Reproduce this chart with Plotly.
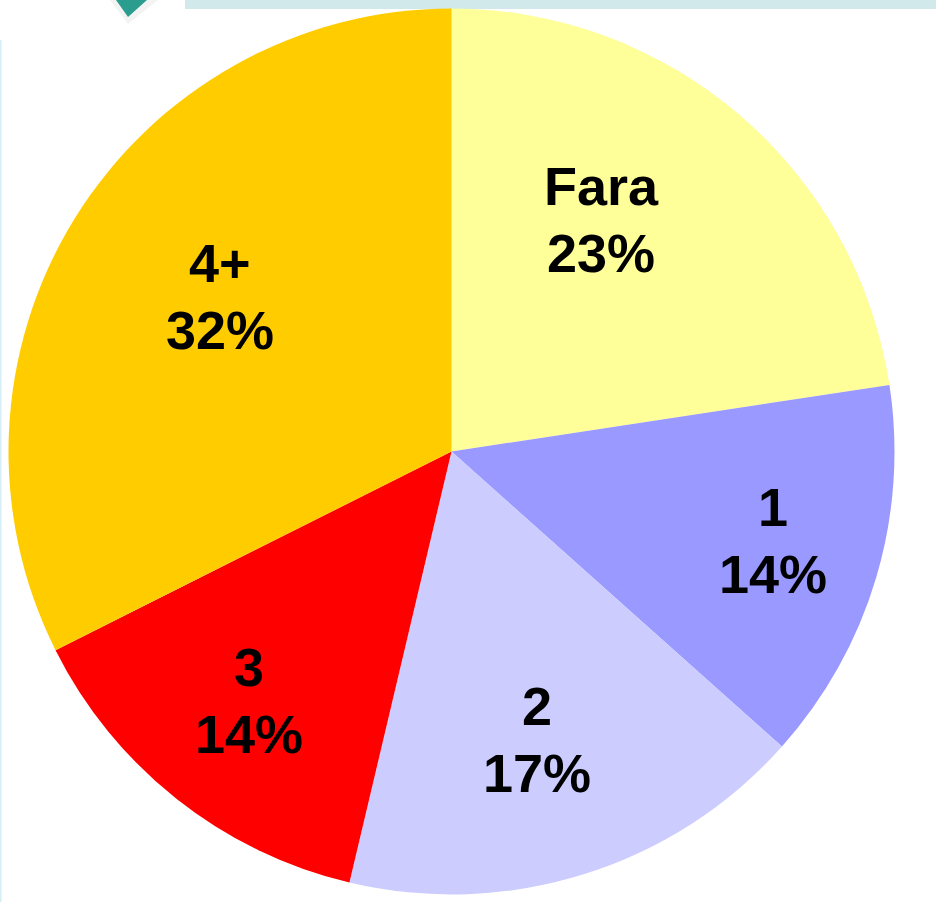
import plotly.graph_objects as go

categories = ["Fara", "1", "2", "3", "4+"]
values = [22.6, 14.0, 17.1, 13.9, 32.4]
colors = ["#FFFF99", "#9999FF", "#CCCCFF", "#FF0000", "#FFCC00"]

W, H = 936, 902
cx, cy, r = 451.5, 451.5, 443
label_centres = [(601, 220), (773, 541), (537, 740), (249, 701), (220, 297)]
line_offset = 34

fig = go.Figure(go.Pie(
    labels=categories, values=values, sort=False, direction="clockwise", rotation=0,
    marker=dict(colors=colors, line=dict(width=0)),
    textinfo="none",
    domain=dict(x=[(cx - r) / W, (cx + r) / W], y=[(H - cy - r) / H, (H - cy + r) / H]),
    showlegend=False, hoverinfo="label+percent",
))

shapes = [
    dict(type="rect", xref="paper", yref="paper", x0=185 / W, x1=1, y0=1 - 9 / H, y1=1,
         fillcolor="#D2E9EC", line=dict(width=0), layer="below"),
    dict(type="rect", xref="paper", yref="paper", x0=0, x1=1.5 / W, y0=0, y1=1 - 40 / H,
         fillcolor="#D6EEF5", line=dict(width=0), layer="below"),
    dict(type="path", xref="paper", yref="paper", layer="below",
         path=f"M {110/W} 1 L {128/W} {1-24/H} L {158/W} 1 Z",
         fillcolor="rgba(120,100,100,0.08)", line=dict(width=0)),
    dict(type="path", xref="paper", yref="paper", layer="below",
         path=f"M {116/W} 1 L {128/W} {1-17/H} L {147/W} 1 Z",
         fillcolor="#2A9D8F", line=dict(width=0)),
]

font = dict(family="Liberation Sans", size=54, color="#000000")
annotations = []
for c, v, (px, py) in zip(categories, values, label_centres):
    for text, dy in ((c, -line_offset), (f"{round(v)}%", line_offset - 1)):
        annotations.append(dict(
            text=f"<b>{text}</b>", x=px / W, y=1 - (py + dy) / H,
            xref="paper", yref="paper", xanchor="center", yanchor="middle",
            showarrow=False, align="center", font=font,
        ))

fig.update_layout(
    width=W, height=H, margin=dict(l=0, r=0, t=0, b=0),
    paper_bgcolor="#FFFFFF", plot_bgcolor="#FFFFFF", shapes=shapes, annotations=annotations,
)
fig.write_html("out.html", config={"displayModeBar": False},
               post_script="document.body.style.margin='0';document.body.style.overflow='hidden';")
